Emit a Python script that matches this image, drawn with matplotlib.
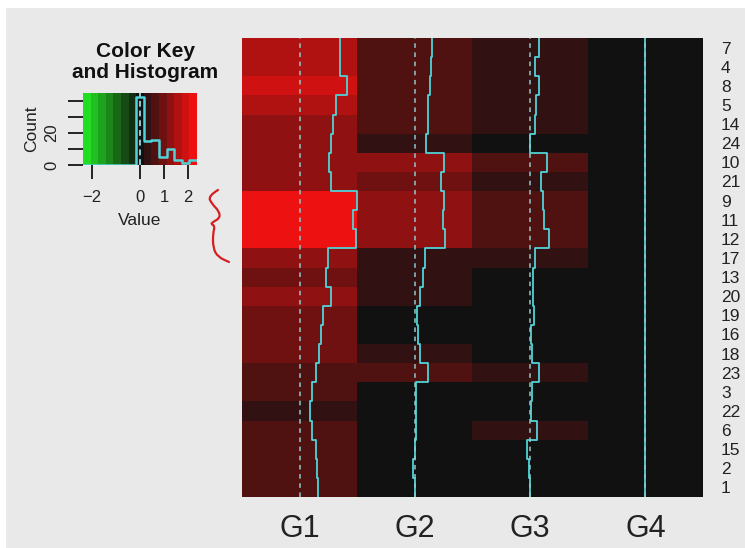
import numpy as np
import matplotlib
matplotlib.use("Agg")
import matplotlib.pyplot as plt
from matplotlib.colors import ListedColormap, BoundaryNorm, LinearSegmentedColormap
from matplotlib.patches import Rectangle, PathPatch
from matplotlib.path import Path

plt.rcParams['font.family'] = ['Liberation Sans Narrow', 'Liberation Sans', 'DejaVu Sans']

# rows as they appear top to bottom
row_labels = ["7", "4", "8", "5", "14", "24", "10", "21", "9", "11", "12", "17",
              "13", "20", "19", "16", "18", "23", "3", "22", "6", "15", "2", "1"]
col_labels = ["G1", "G2", "G3", "G4"]

g1 = [1.65, 1.65, 1.93, 1.48, 1.37, 1.31, 1.22, 1.27, 2.37, 2.20, 2.33, 1.18,
      1.08, 1.27, 0.95, 0.88, 0.81, 0.67, 0.50, 0.43, 0.50, 0.67, 0.70, 0.77]
g2 = [0.70, 0.66, 0.63, 0.56, 0.52, 0.46, 1.18, 1.08, 1.20, 1.15, 1.24, 0.43,
      0.33, 0.22, 0.09, 0.11, 0.22, 0.56, 0.05, 0.05, 0.03, 0.00, -0.08, 0.00]
g3 = [0.36, 0.22, 0.36, 0.25, 0.20, 0.00, 0.70, 0.46, 0.54, 0.56, 0.77, 0.18,
      0.12, 0.10, 0.15, 0.05, 0.08, 0.36, 0.08, 0.05, 0.27, -0.14, -0.05, 0.00]
g4 = [0.0] * 24

data = np.array([g1, g2, g3, g4]).T  # rows x cols
nrow, ncol = data.shape

# symmetric breaks, 15 colours green-black-red
lim = np.abs(data).max()
breaks = np.linspace(-lim, lim, 16)
base = LinearSegmentedColormap.from_list("gr", ["#22dd22", "#111111", "#ee1111"])
cmap = ListedColormap(base(np.linspace(0, 1, 15)))
norm = BoundaryNorm(breaks, cmap.N)

trace_col = "#4fd3d8"
vline_col = "#8fc9cc"

fig = plt.figure(figsize=(7.45, 5.48), dpi=100)
fig.patch.set_facecolor("white")
fig.patches.append(Rectangle((6 / 745, 0), 1, 1 - 8 / 548, transform=fig.transFigure,
                             facecolor="#e9e9e9", edgecolor="none", zorder=-10))

# heatmap
ax = fig.add_axes([242 / 745, 1 - 497 / 548, 461 / 745, 459 / 548])
ax.pcolormesh(np.arange(ncol + 1), np.arange(nrow + 1), data, cmap=cmap, norm=norm)
ax.set_xlim(0, ncol)
ax.set_ylim(nrow, 0)
zero_pos = (0 + lim) / (2 * lim)
for j in range(ncol):
    xs = j + (data[:, j] + lim) / (2 * lim)
    ax.plot(np.repeat(xs, 2), np.repeat(np.arange(nrow + 1), 2)[1:-1],
            color=trace_col, lw=1.3)
    ax.axvline(j + zero_pos, color=vline_col, lw=1.1, ls=(0, (3, 3)))
ax.set_yticks(np.arange(nrow) + 0.5)
ax.set_yticklabels(row_labels, fontsize=12.5, ha="left", color="#222222")
ax.yaxis.tick_right()
ax.tick_params(axis="y", length=0, pad=13)
ax.set_xticks(np.arange(ncol) + 0.5)
ax.set_xticklabels(col_labels, fontsize=22, color="#222222")
ax.tick_params(axis="x", length=0, pad=12)
for s in ax.spines.values():
    s.set_visible(False)

# colour key with histogram
counts, _ = np.histogram(data.ravel(), bins=breaks)
ymax = counts.max() / 0.95
kx = fig.add_axes([83 / 745, 1 - 165 / 548, 114 / 745, 72 / 548])
kx.pcolormesh(breaks, [0, ymax], ((breaks[:-1] + breaks[1:]) / 2)[None, :],
              cmap=cmap, norm=norm)
kx.step(breaks, np.append(counts, counts[-1]), where="post", color=trace_col, lw=1.8)
kx.axvline(0, color=vline_col, lw=1.4, ls=(0, (3, 2)))
kx.set_xlim(-lim, lim)
kx.set_ylim(0, ymax)
kx.set_xticks([-2, 0, 1, 2])
kx.set_xticklabels(["\u22122", "0", "1", "2"], fontsize=12, color="#222222")
kx.set_yticks([0, 10, 20, 30, 40])
kx.set_yticklabels(["0", "", "20", "", ""], fontsize=12, rotation=90,
                   va="center", color="#222222")
kx.tick_params(axis="x", length=10, width=1.2, pad=8, direction="out")
kx.tick_params(axis="y", length=11, width=1.2, pad=6, direction="out")
for s in kx.spines.values():
    s.set_visible(False)
kx.set_xlabel("Value", fontsize=12.5, color="#222222", labelpad=6)
kx.set_ylabel("Count", fontsize=12.5, color="#222222", labelpad=4)

fig.text(145 / 745, 1 - 62 / 548, "Color Key\nand Histogram", ha="center", va="center",
         fontsize=15, fontweight="bold", linespacing=1.1, color="#111111")

# hand-drawn brace (smooth path)
bx = [218, 208, 212, 219, 220, 213, 211, 215, 213, 213, 218, 229]
by = [190, 196, 204, 211, 218, 222, 224, 226, 233, 248, 257, 262]
verts = [(bx[0], by[0])]
codes = [Path.MOVETO]
for i in range(1, len(bx) - 1):
    mid = ((bx[i] + bx[i + 1]) / 2, (by[i] + by[i + 1]) / 2)
    verts += [(bx[i], by[i]), mid]
    codes += [Path.CURVE3, Path.CURVE3]
verts.append((bx[-1], by[-1]))
codes.append(Path.LINETO)
verts = [(x / 745, 1 - y / 548) for x, y in verts]
fig.add_artist(PathPatch(Path(verts, codes), transform=fig.transFigure, fill=False,
                         edgecolor="#d42020", lw=1.6, capstyle="round"))

fig.savefig("out.png", dpi=100, facecolor=fig.get_facecolor())
